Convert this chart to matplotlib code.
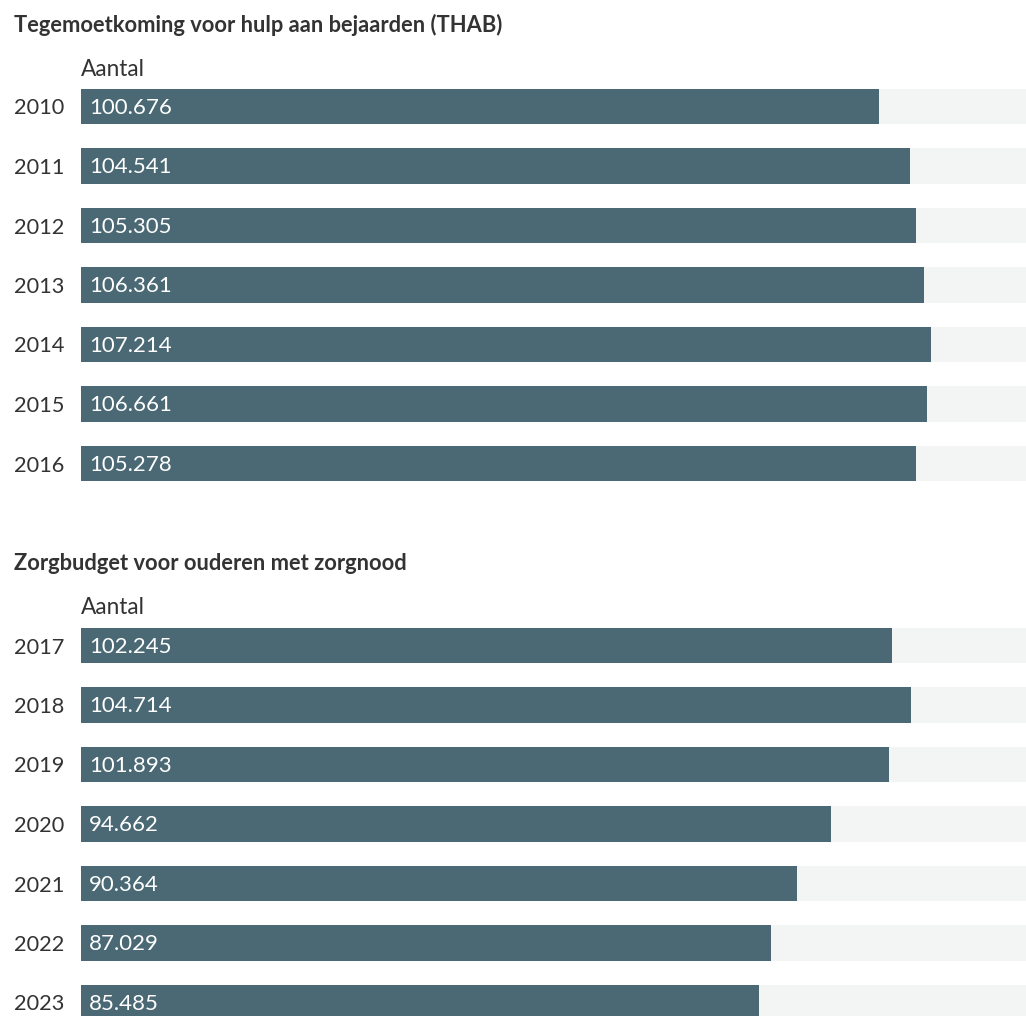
import matplotlib
matplotlib.use("Agg")
import matplotlib.pyplot as plt

plt.rcParams['font.family'] = ['Lato', 'DejaVu Sans']

title1 = "Tegemoetkoming voor hulp aan bejaarden (THAB)"
years1 = ["2010", "2011", "2012", "2013", "2014", "2015", "2016"]
values1 = [100676, 104541, 105305, 106361, 107214, 106661, 105278]

title2 = "Zorgbudget voor ouderen met zorgnood"
years2 = ["2017", "2018", "2019", "2020", "2021", "2022", "2023"]
values2 = [102245, 104714, 101893, 94662, 90364, 87029, 85485]

axis_label = "Aantal"
XMAX = 119200

BAR = "#4a6975"
BG = "#f3f4f4"
TXT = "#333333"

W, H = 1026, 1016
fig = plt.figure(figsize=(W / 100, H / 100), dpi=100)

def fmt(v):
    return f"{v:,}".replace(",", ".")

def panel(title, years, values, title_y, label_y, first_center):
    spacing = 59.5
    n = len(years)
    top = first_center - spacing / 2
    bottom = top + spacing * n
    ax = fig.add_axes([81 / W, 1 - bottom / H, (W - 81) / W, spacing * n / H])
    ys = list(range(n))
    ax.barh(ys, [XMAX] * n, height=0.59, color=BG, zorder=1)
    ax.barh(ys, values, height=0.59, color=BAR, zorder=2)
    ax.set_xlim(0, XMAX)
    ax.set_ylim(n - 0.5, -0.5)
    for y, v in zip(ys, values):
        ax.text(XMAX * 0.0085, y + 0.02, fmt(v), color="white", fontsize=16,
                va="center", ha="left", zorder=3)
    ax.set_yticks(ys)
    ax.set_yticklabels(years, fontsize=15.7, color=TXT)
    ax.tick_params(axis="y", length=0, pad=12.2)
    ax.set_xticks([])
    for s in ax.spines.values():
        s.set_visible(False)
    fig.text(14 / W, 1 - title_y / H, title, fontsize=15.75, fontweight="bold",
             color=TXT, va="center", ha="left")
    fig.text(81 / W, 1 - label_y / H, axis_label, fontsize=16.3, color=TXT,
             va="center", ha="left")
    return ax

panel(title1, years1, values1, 25, 69, 106.5)
panel(title2, years2, values2, 563, 608, 645.5)

fig.savefig("out.png", dpi=100)
